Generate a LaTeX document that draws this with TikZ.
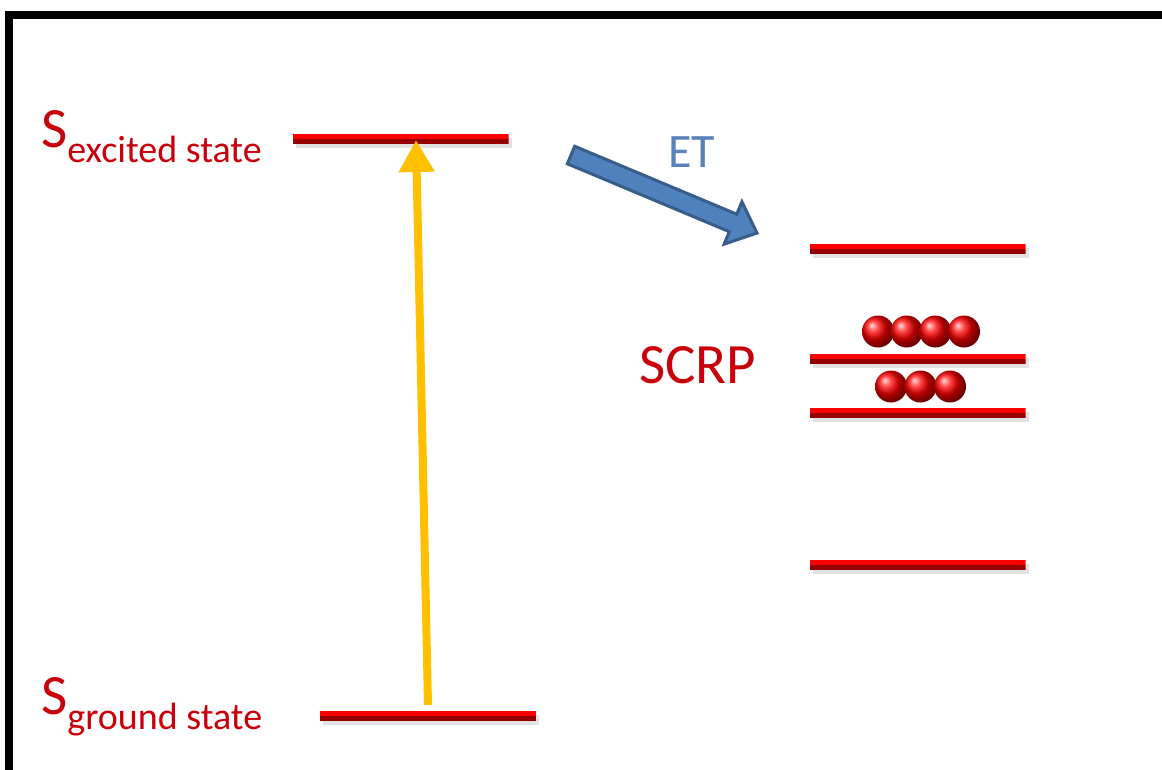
\documentclass[tikz,border=0pt]{standalone}
\usepackage{fontspec}
\setmainfont{Carlito}
\usetikzlibrary{arrows.meta,calc,shadows}
\definecolor{barred}{HTML}{FF0000}
\definecolor{bardark}{HTML}{950000}
\definecolor{txtred}{HTML}{C8000A}
\definecolor{etblue}{HTML}{5A82BA}
\definecolor{arrowfill}{HTML}{4F81BD}
\definecolor{arrowedge}{HTML}{385D8A}
\definecolor{yel}{HTML}{FFC000}
\tikzset{
  level/.style={minimum width=216pt, minimum height=10pt, inner sep=0pt, outer sep=0pt,
    drop shadow={shadow xshift=3pt, shadow yshift=-4pt, fill=black!22},
    path picture={
      \fill[barred] (path picture bounding box.north west) rectangle (path picture bounding box.east);
      \fill[bardark] (path picture bounding box.west) rectangle (path picture bounding box.south east);}},
  sphere/.style={circle, minimum size=32pt, inner sep=0pt, shading=ball, ball color=red},
  statelabel/.style={text=txtred, anchor=base west, inner sep=0pt},
  bigfont/.style={font=\fontsize{57pt}{57pt}\selectfont},
}
\newcommand{\subtext}[1]{\raisebox{-15pt}{\fontsize{38pt}{38pt}\selectfont #1}}
\begin{document}
\begin{tikzpicture}[x=1pt,y=-1pt]
\useasboundingbox (0,0) rectangle (1162,769);
\clip (0,0) rectangle (1162,769);
\fill[white] (0,0) rectangle (1162,769);
% frame
\draw[line width=8pt] (9,790) -- (9,15) -- (1180,15);

% levels
\node[level] (ex) at (400.5,139) {};
\node[level] (gr) at (428,716) {};
\node[level] (r1) at (917.5,249) {};
\node[level] (r2) at (917.5,359) {};
\node[level] (r3) at (917.5,413) {};
\node[level] (r4) at (917.5,565) {};

% labels
\node[statelabel, bigfont] (lex) at (41,147) {S\subtext{excited state}};
\node[statelabel, bigfont] (lgr) at (41,714) {S\subtext{ground state}};
\node[statelabel, bigfont] (scrp) at (639,383) {SCRP};
\node[text=etblue, anchor=base west, inner sep=0pt, font=\fontsize{48pt}{48pt}\selectfont] (et) at (668,167) {ET};

% spheres
\node[sphere] (a1) at (878,331.5) {};
\node[sphere] (a2) at (906.7,331.5) {};
\node[sphere] (a3) at (935.3,331.5) {};
\node[sphere] (a4) at (964,331.5) {};
\node[sphere] (b1) at (891,386.5) {};
\node[sphere] (b2) at (920.5,386.5) {};
\node[sphere] (b3) at (950,386.5) {};

% yellow excitation arrow
\coordinate (ytail) at (428,705);
\coordinate (ytip) at (416,140);
\draw[yel, line width=8pt, -{Triangle[width=34pt,length=32pt]}] (ytail) -- (ytip);

% blue ET block arrow
\coordinate (bt) at (571,155);
\coordinate (bh) at (757,233);
\coordinate (hb) at ($(bh)!26pt!(bt)$);
\draw[fill=arrowfill, draw=arrowedge, line width=3pt, line join=miter]
  ($(bt)!9.5pt!90:(bh)$) -- ($(hb)!9.5pt!-90:(bt)$) -- ($(hb)!23pt!-90:(bt)$) -- (bh)
  -- ($(hb)!23pt!90:(bt)$) -- ($(hb)!9.5pt!90:(bt)$) -- ($(bt)!9.5pt!-90:(bh)$) -- cycle;
\end{tikzpicture}
\end{document}
